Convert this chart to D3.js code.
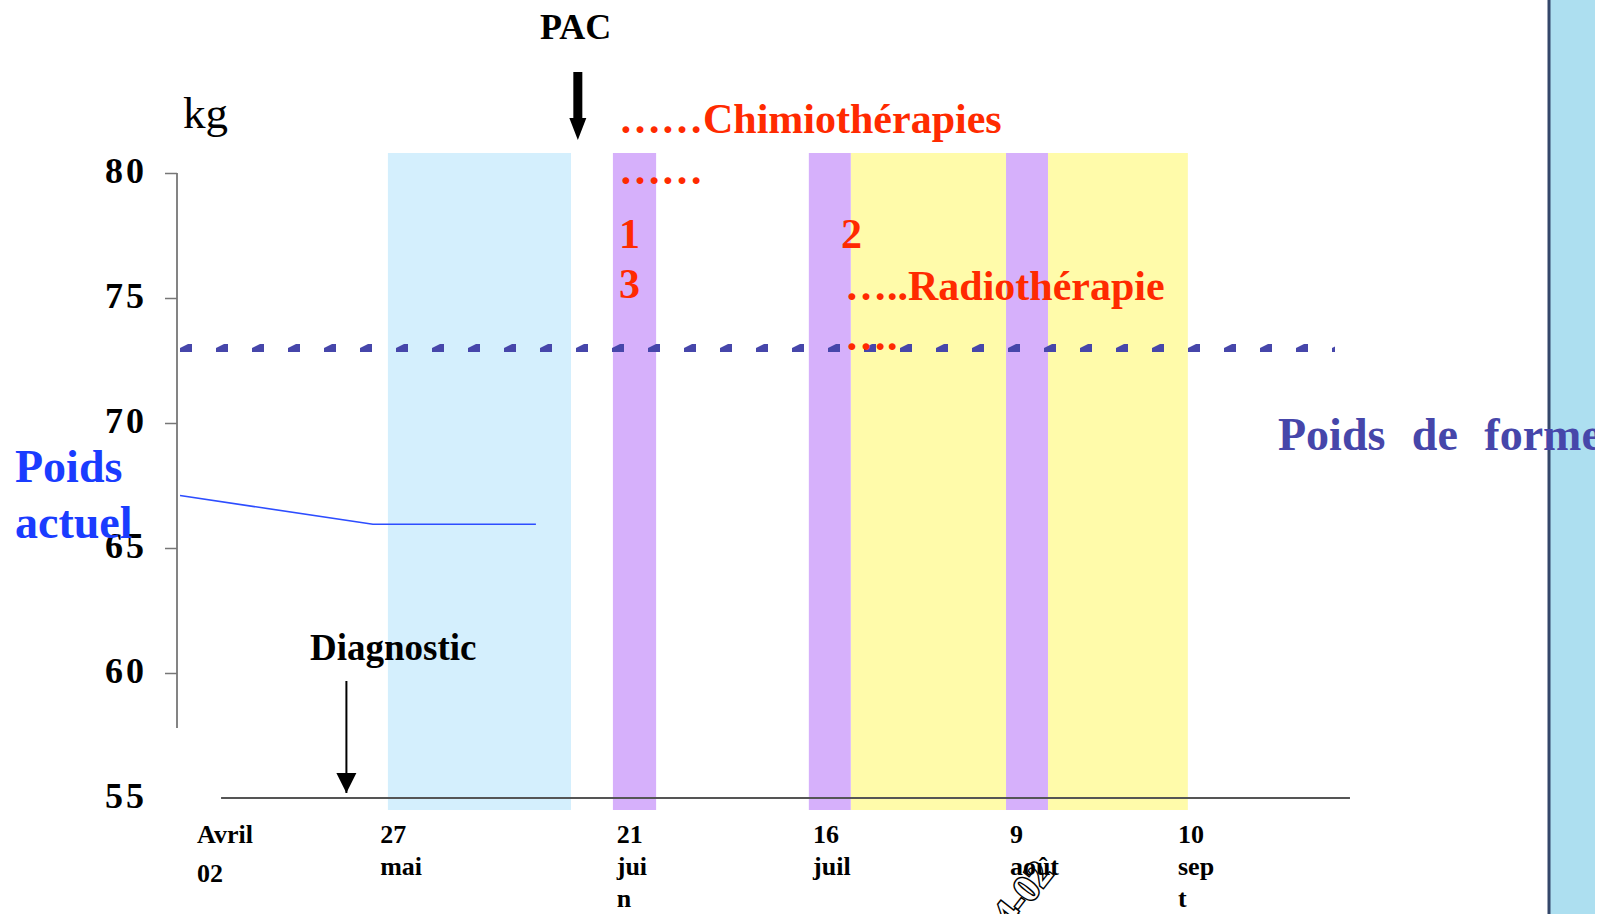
<!DOCTYPE html>
<html>
<head>
<meta charset="utf-8">
<script src="https://cdn.jsdelivr.net/npm/d3@7"></script>
<style>
  html, body { margin: 0; padding: 0; background: #fff; }
  svg { display: block; }
  text { font-family: "Liberation Serif", "Times New Roman", serif; }
</style>
</head>
<body>
<svg id="chart" width="1616" height="914"></svg>
<script>
// --- données ---
// axe horizontal : position en "créneaux" (échelle non calendaire de la diapo)
const xTicks = [0.40, 4.68, 10.21, 14.80, 19.40, 23.33];
const xTickLabels = [['Avril', '02'], ['27', 'mai'], ['21', 'jui', 'n'], ['16', 'juil'], ['9', 'août'], ['10', 'sep', 't']];

const yTicks = [55, 60, 65, 70, 75, 80];

// périodes de traitement
const prepBand = [[4.86, 9.14]];                                  // bleu clair
const chimioBands = [[10.12, 11.13], [14.70, 15.68], [19.31, 20.29]];
const radioBands = [[15.68, 19.31], [20.29, 23.56]];

// poids actuel
const poidsX = [0, 4.51, 8.32];
const poidsKg = [67.1, 65.95, 65.95];

// poids de forme
const poidsForme = 73;

const diagnosticX = 3.89;
const pacX = 9.30;

const svg = d3.select('#chart');
const width = 1616, height = 914;

const x = d3.scaleLinear().domain([0, 27]).range([180, 1335]);
const y = d3.scaleLinear().domain([55, 80]).range([798, 173]);

const bandTop = 80.8, bandBottom = 54.52;

svg.append('rect').attr('width', width).attr('height', height).attr('fill', '#fff');

// bandes
const bands = svg.append('g');
function drawBands(data, color) {
  bands.selectAll(null)
    .data(data)
    .join('rect')
      .attr('x', d => x(d[0]))
      .attr('width', d => x(d[1]) - x(d[0]))
      .attr('y', y(bandTop))
      .attr('height', y(bandBottom) - y(bandTop))
      .attr('fill', color);
}
drawBands(prepBand, '#d4effd');
drawBands(radioBands, '#fffbaa');
drawBands(chimioBands, '#d6b0fb');

// filigrane tourné en bas (derrière les étiquettes)
svg.append('text')
  .attr('transform', 'translate(1054,874) rotate(-52)')
  .attr('text-anchor', 'end')
  .attr('font-size', 38)
  .attr('font-weight', 'bold')
  .attr('fill', '#fff')
  .attr('stroke', '#000')
  .attr('stroke-width', 3)
  .attr('paint-order', 'stroke')
  .text('04-02');

// axe Y
const yAxis = svg.append('g')
  .attr('transform', `translate(${x(0) - 3},0)`)
  .call(d3.axisLeft(y).tickValues(yTicks).tickSize(12).tickPadding(18));
yAxis.select('.domain').remove();
yAxis.selectAll('.tick line')
  .attr('stroke', '#777')
  .attr('stroke-width', 1.5)
  .filter(d => d === 55).remove();
yAxis.selectAll('.tick text')
  .attr('fill', '#000')
  .attr('font-size', 36)
  .attr('font-weight', 'bold')
  .attr('letter-spacing', 3)
  .attr('dy', '0.26em')
  .attr('font-family', '"Liberation Serif", serif');
yAxis.append('line')
  .attr('x1', 0).attr('x2', 0)
  .attr('y1', y(80)).attr('y2', y(57.8))
  .attr('stroke', '#777').attr('stroke-width', 1.8);

// axe X (ligne de base)
svg.append('line')
  .attr('x1', x(0.96)).attr('x2', x(27.35))
  .attr('y1', y(55)).attr('y2', y(55))
  .attr('stroke', '#555').attr('stroke-width', 2);

const xLabels = svg.append('g')
  .selectAll('text')
  .data(xTicks)
  .join('text')
    .attr('x', d => x(d))
    .attr('y', 843)
    .attr('font-size', 26)
    .attr('font-weight', 'bold')
    .attr('fill', '#000');
xLabels.selectAll('tspan')
  .data((d, i) => xTickLabels[i].map((t, j) => ({ t, j, first: i === 0 })))
  .join('tspan')
    .attr('x', function () { return d3.select(this.parentNode).attr('x'); })
    .attr('dy', d => d.j === 0 ? 0 : (d.first ? 39 : 32))
    .text(d => d.t);

// poids de forme : tirets obliques
const defs = svg.append('defs');
const pat = defs.append('pattern')
  .attr('id', 'tirets')
  .attr('patternUnits', 'userSpaceOnUse')
  .attr('x', x(0)).attr('y', y(poidsForme) - 4)
  .attr('width', 36).attr('height', 9);
pat.append('polygon')
  .attr('points', '0,8 12,8 12,0 8,0 0,4')
  .attr('fill', '#4646aa');
svg.append('rect')
  .attr('x', x(0))
  .attr('y', y(poidsForme) - 4)
  .attr('width', x(27) - x(0))
  .attr('height', 9)
  .attr('fill', 'url(#tirets)');

// poids actuel
const line = d3.line().x(d => x(d[0])).y(d => y(d[1]));
svg.append('path')
  .datum(d3.zip(poidsX, poidsKg))
  .attr('d', line)
  .attr('fill', 'none')
  .attr('stroke', '#2d4dff')
  .attr('stroke-width', 1.6);

// flèches
defs.append('marker')
  .attr('id', 'headThin')
  .attr('viewBox', '0 0 10 10')
  .attr('refX', 10).attr('refY', 5)
  .attr('markerUnits', 'userSpaceOnUse')
  .attr('markerWidth', 20).attr('markerHeight', 21)
  .attr('orient', 'auto')
  .append('path').attr('d', 'M0,0 L10,5 L0,10 Z').attr('fill', '#000');

svg.append('line')
  .attr('x1', x(diagnosticX)).attr('x2', x(diagnosticX))
  .attr('y1', 681).attr('y2', 793)
  .attr('stroke', '#000').attr('stroke-width', 2)
  .attr('marker-end', 'url(#headThin)');

// flèche PAC (épaisse)
const pacCx = x(pacX);
svg.append('path')
  .attr('d', `M${pacCx - 4.5},72 L${pacCx + 4.5},72 L${pacCx + 4.5},118 L${pacCx + 8.5},118 L${pacCx},140 L${pacCx - 8.5},118 L${pacCx - 4.5},118 Z`)
  .attr('fill', '#000');

// textes
function label(txt, px, py, opts = {}) {
  return svg.append('text')
    .attr('x', px).attr('y', py)
    .attr('font-size', opts.size || 40)
    .attr('font-weight', opts.weight || 'bold')
    .attr('fill', opts.color || '#000')
    .text(txt);
}

label('PAC', 540, 39, { size: 36 });
label('kg', 183, 128, { size: 45, weight: 'normal' });
label('Diagnostic', 310, 660, { size: 37 });

const red = '#ff2a00';
label('……Chimiothérapies', 619, 133, { size: 42, color: red });
label('……', 619, 184, { size: 42, color: red });
label('1', 619, 248, { size: 42, color: red });
label('3', 619, 298, { size: 42, color: red });
label('2', 841, 248, { size: 42, color: red });
label('…..Radiothérapie', 845, 300, { size: 42, color: red });
label('….', 845, 350, { size: 42, color: red });

label('Poids', 15, 482, { size: 46, color: '#1a3cff' });
label('actuel', 15, 538, { size: 46, color: '#1a3cff' });

// bandeau à droite
svg.append('rect')
  .attr('x', 1550).attr('y', 0)
  .attr('width', 45).attr('height', height)
  .attr('fill', '#addff0');
svg.append('line')
  .attr('x1', 1549).attr('x2', 1549)
  .attr('y1', 0).attr('y2', height)
  .attr('stroke', '#34476a').attr('stroke-width', 3);

defs.append('clipPath').attr('id', 'clipSlide')
  .append('rect').attr('width', 1595).attr('height', height);
svg.append('text')
  .attr('clip-path', 'url(#clipSlide)')
  .attr('x', 1278).attr('y', 450)
  .attr('font-size', 46)
  .attr('font-weight', 'bold')
  .attr('fill', '#4646aa')
  .attr('word-spacing', 15)
  .text('Poids de forme');
</script>
</body>
</html>
